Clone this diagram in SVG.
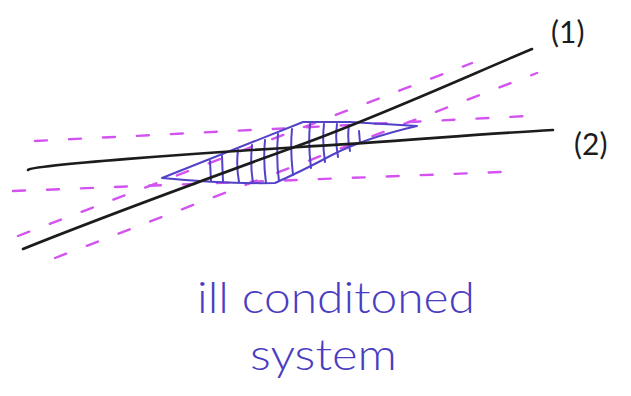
<svg xmlns="http://www.w3.org/2000/svg" width="631" height="396" viewBox="0 0 631 396">
<style>
.ln{fill:none;stroke:#1c1c1c;stroke-width:2.6;stroke-linecap:round;stroke-linejoin:round}
.dash{fill:none;stroke:#d452f0;stroke-width:2.4;stroke-linecap:round;stroke-dasharray:12 22}
.hatch{fill:none;stroke:#5142c8;stroke-width:2;stroke-linecap:round;stroke-linejoin:round}
.hw{font-family:Lato,"Liberation Sans",sans-serif;font-weight:300;fill:#4a3dc2}
.lbl{font-family:Lato,"Liberation Sans",sans-serif;font-weight:400;fill:#1c1c1c;font-size:30px}
</style>
<rect width="631" height="396" fill="#ffffff"/>
<g id="bands">
<path class="dash" d="M18,236 L472,63"/>
<path class="dash" d="M55,258 L537,73"/>
<path class="dash" d="M35,141 L528,116"/>
<path class="dash" d="M13,191 L502,172"/>
</g>
<g id="region">
<path class="hatch" d="M162,178 L303,122 L350,122 Q385,124 417,126 Q365,138 332,155 Q300,172 275,183 Q225,184 162,178 Z"/>
<path class="hatch" d="M210,161 L211,181 M222,156 L223,182 M238,150 Q236,165 239,182 M252,145 Q250,165 253,183 M265,140 Q263,160 266,183 M278,134 Q276,160 279,181 M292,129 Q290,150 293,175 M310,124 Q308,145 311,168 M324,124 Q322,142 325,162 M337,124 Q335,140 338,157 M349,125 Q347,138 350,151 M359,131 L360,143"/>
</g>
<g id="line1">
<path class="ln" d="M23,249 C100,218 220,174 300,145 S470,75 532,49"/>
<text class="lbl" x="551" y="43">(1)</text>
</g>
<g id="line2">
<path class="ln" d="M28,170 C32,165 200,153 300,147 S480,134 553,130"/>
<text class="lbl" x="574" y="155">(2)</text>
</g>
<g id="caption">
<text class="hw" x="197" y="313" font-size="44" textLength="278" lengthAdjust="spacingAndGlyphs">ill conditoned</text>
<text class="hw" x="250" y="370" font-size="44" textLength="147" lengthAdjust="spacingAndGlyphs">system</text>
</g>
</svg>
